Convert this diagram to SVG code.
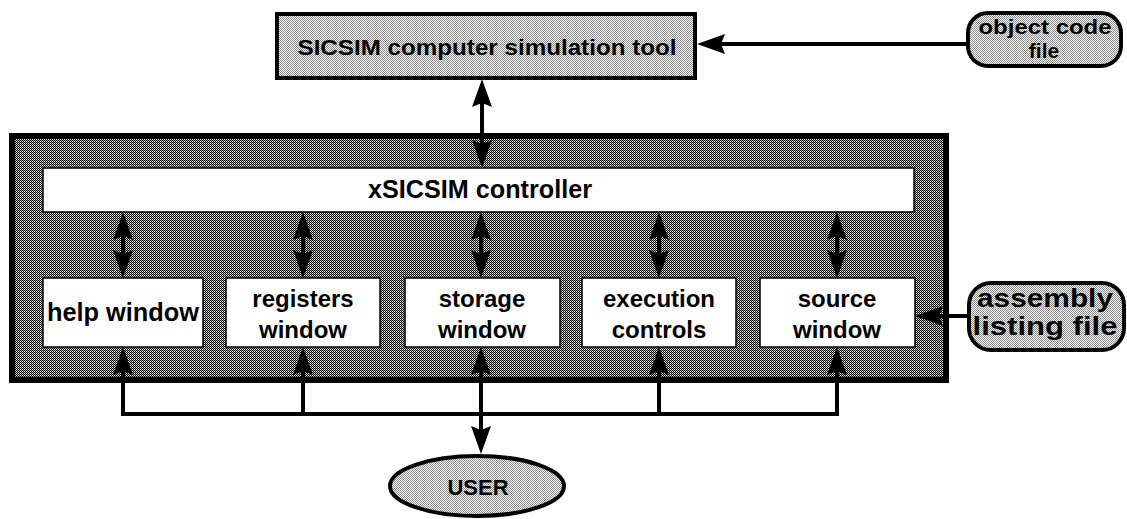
<svg xmlns="http://www.w3.org/2000/svg" width="1127" height="519" viewBox="0 0 1127 519">
  <style>
    .lbl { font-family: "Liberation Sans", Arial, Helvetica, sans-serif; font-weight: bold; fill: #000; text-anchor: middle; }
    .box { stroke: #000; }
    .conn { stroke: #000; stroke-width: 4; fill: none; }
  </style>
  <defs>
    <pattern id="dark" patternUnits="userSpaceOnUse" width="2" height="2">
      <rect x="0" y="0" width="2" height="2" fill="#ffffff" shape-rendering="crispEdges"/>
      <rect x="0" y="0" width="1" height="1" fill="#000000" shape-rendering="crispEdges"/>
      <rect x="1" y="1" width="1" height="1" fill="#000000" shape-rendering="crispEdges"/>
      <rect x="1" y="0" width="1" height="1" fill="#9a9a9a" shape-rendering="crispEdges"/>
    </pattern>
    <pattern id="light" patternUnits="userSpaceOnUse" width="2" height="2">
      <rect x="0" y="0" width="2" height="2" fill="#ffffff" shape-rendering="crispEdges"/>
      <rect x="0" y="0" width="1" height="1" fill="#8a8a8a" shape-rendering="crispEdges"/>
      <rect x="1" y="1" width="1" height="1" fill="#8a8a8a" shape-rendering="crispEdges"/>
    </pattern>
    <marker id="arr" viewBox="0 0 28 20" refX="15" refY="10" markerWidth="28" markerHeight="20" markerUnits="userSpaceOnUse" orient="auto-start-reverse">
      <path d="M0,0 L28,10 L0,20 L4,10 z" fill="#000"/>
    </marker>
  </defs>

  <g id="simulator">
    <rect class="box" x="277" y="14" width="418" height="64" fill="url(#light)" stroke-width="4"/>
    <text class="lbl" x="487" y="55" font-size="22" textLength="379" lengthAdjust="spacingAndGlyphs">SICSIM computer simulation tool</text>
  </g>

  <g id="object-code-file">
    <rect class="box" x="968" y="13" width="153" height="53" rx="20" ry="20" fill="url(#light)" stroke-width="4"/>
    <text class="lbl" x="1045" y="34" font-size="21" textLength="133" lengthAdjust="spacingAndGlyphs">object code</text>
    <text class="lbl" x="1044" y="58" font-size="21">file</text>
  </g>

  <g id="xsicsim">
    <rect class="box" x="12" y="136" width="934" height="244" fill="url(#dark)" stroke-width="6"/>
  </g>

  <g id="controller">
    <rect class="box" x="43" y="168" width="871" height="44" fill="#fff" stroke-width="1.5"/>
    <text class="lbl" x="480" y="198" font-size="25" textLength="224" lengthAdjust="spacingAndGlyphs">xSICSIM controller</text>
  </g>

  <g id="help-window">
    <rect class="box" x="43" y="278" width="160" height="69" fill="#fff" stroke-width="1.5"/>
    <text class="lbl" x="123" y="321" font-size="25" textLength="152" lengthAdjust="spacingAndGlyphs">help window</text>
  </g>

  <g id="registers-window">
    <rect class="box" x="226" y="278" width="154" height="69" fill="#fff" stroke-width="1.5"/>
    <text class="lbl" x="303" y="307" font-size="24">registers</text>
    <text class="lbl" x="303" y="338" font-size="24">window</text>
  </g>

  <g id="storage-window">
    <rect class="box" x="405" y="278" width="155" height="69" fill="#fff" stroke-width="1.5"/>
    <text class="lbl" x="482" y="307" font-size="24">storage</text>
    <text class="lbl" x="482" y="338" font-size="24">window</text>
  </g>

  <g id="execution-controls">
    <rect class="box" x="582" y="278" width="154" height="69" fill="#fff" stroke-width="1.5"/>
    <text class="lbl" x="659" y="307" font-size="24">execution</text>
    <text class="lbl" x="659" y="338" font-size="24">controls</text>
  </g>

  <g id="source-window">
    <rect class="box" x="760" y="278" width="155" height="69" fill="#fff" stroke-width="1.5"/>
    <text class="lbl" x="837" y="307" font-size="24">source</text>
    <text class="lbl" x="837" y="338" font-size="24">window</text>
  </g>

  <g id="assembly-listing-file">
    <rect class="box" x="969" y="283" width="155" height="67" rx="22" ry="22" fill="url(#light)" stroke-width="4"/>
    <text class="lbl" x="1045" y="307" font-size="26" textLength="136" lengthAdjust="spacingAndGlyphs">assembly</text>
    <text class="lbl" x="1045" y="335" font-size="26" textLength="145" lengthAdjust="spacingAndGlyphs">listing file</text>
  </g>

  <g id="user">
    <ellipse class="box" cx="477" cy="486" rx="87" ry="30" fill="url(#light)" stroke-width="4"/>
    <text class="lbl" x="478" y="495" font-size="22">USER</text>
  </g>

  <g id="connectors">
    <line class="conn" x1="482" y1="92" x2="482" y2="155" marker-start="url(#arr)" marker-end="url(#arr)"/>
    <line class="conn" x1="967" y1="44" x2="710" y2="44" marker-end="url(#arr)"/>
    <line class="conn" x1="123" y1="225" x2="123" y2="265" marker-start="url(#arr)" marker-end="url(#arr)"/>
    <line class="conn" x1="303" y1="225" x2="303" y2="265" marker-start="url(#arr)" marker-end="url(#arr)"/>
    <line class="conn" x1="481" y1="225" x2="481" y2="265" marker-start="url(#arr)" marker-end="url(#arr)"/>
    <line class="conn" x1="659" y1="225" x2="659" y2="265" marker-start="url(#arr)" marker-end="url(#arr)"/>
    <line class="conn" x1="837" y1="225" x2="837" y2="265" marker-start="url(#arr)" marker-end="url(#arr)"/>
    <path class="conn" d="M123,414 L837,414"/>
    <line class="conn" x1="123" y1="416" x2="123" y2="360" marker-end="url(#arr)"/>
    <line class="conn" x1="303" y1="414" x2="303" y2="360" marker-end="url(#arr)"/>
    <line class="conn" x1="659" y1="414" x2="659" y2="360" marker-end="url(#arr)"/>
    <line class="conn" x1="837" y1="416" x2="837" y2="360" marker-end="url(#arr)"/>
    <line class="conn" x1="481" y1="360" x2="481" y2="441" marker-start="url(#arr)" marker-end="url(#arr)"/>
    <line class="conn" x1="968" y1="316" x2="928" y2="316" marker-end="url(#arr)"/>
  </g>
</svg>
